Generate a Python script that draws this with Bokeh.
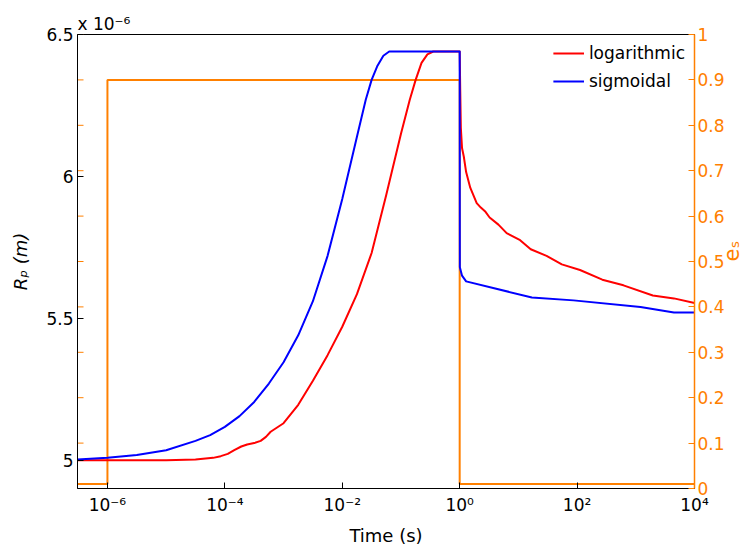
import math
from bokeh.plotting import figure
from bokeh.models import (ColumnDataSource, Range1d, LinearAxis, FixedTicker,
                          Legend, LegendItem, Title)
from bokeh.embed import file_html
from bokeh.resources import INLINE

# ---------------- data ----------------
# time given as log10(t [s]); R_p in units of 1e-6 m
logt_logarithmic = [-6.51, -5.0, -4.5, -4.2, -4.07, -3.95, -3.84, -3.72, -3.62, -3.5,
                    -3.39, -3.3, -3.22, -3.11, -3.0, -2.75, -2.5, -2.25, -2.0, -1.75,
                    -1.5, -1.25, -1.0, -0.85, -0.75, -0.65, -0.55, -0.45, 0.0,
                    0.01, 0.02, 0.04, 0.07, 0.11, 0.18, 0.29, 0.36, 0.44, 0.51, 0.66,
                    0.8, 1.03, 1.21, 1.48, 1.74, 2.05, 2.43, 2.79, 3.29, 3.65, 4.0]
rp_logarithmic = [5.000, 5.000, 5.002, 5.008, 5.014, 5.022, 5.035, 5.048, 5.055, 5.060,
                  5.068, 5.082, 5.10, 5.115, 5.13, 5.195, 5.28, 5.37, 5.47, 5.585,
                  5.73, 5.935, 6.15, 6.27, 6.34, 6.40, 6.43, 6.44, 6.44,
                  6.30, 6.17, 6.10, 6.07, 6.015, 5.96, 5.906, 5.89, 5.875, 5.855, 5.83,
                  5.80, 5.775, 5.743, 5.72, 5.69, 5.67, 5.636, 5.616, 5.58, 5.57, 5.554]

logt_sigmoidal = [-6.51, -6.0, -5.5, -5.0, -4.5, -4.25, -4.0, -3.75, -3.5, -3.25,
                  -3.0, -2.75, -2.5, -2.25, -2.0, -1.75, -1.6, -1.5, -1.4, -1.3,
                  -1.2, 0.0,
                  0.003, 0.04, 0.11, 1.23, 1.94, 3.08, 3.65, 4.0]
rp_sigmoidal = [5.002, 5.008, 5.018, 5.035, 5.068, 5.088, 5.117, 5.155, 5.205, 5.27,
                5.345, 5.44, 5.56, 5.72, 5.92, 6.14, 6.27, 6.34, 6.39, 6.425,
                6.44, 6.44,
                5.68, 5.65, 5.63, 5.573, 5.563, 5.54, 5.52, 5.52]

logt_es = [-6.51, -6.0, -6.0, 0.0, 0.0, 4.0]
es_values = [0.01, 0.01, 0.9, 0.9, 0.01, 0.01]

x_ticks = [1e-6, 1e-4, 1e-2, 1, 1e2, 1e4]
x_tick_labels = ["10\u207b\u2076", "10\u207b\u2074", "10\u207b\u00b2", "10\u2070", "10\u00b2", "10\u2074"]
rp_ticks = [5, 5.5, 6, 6.5]
rp_tick_labels = ["5", "5.5", "6", "6.5"]
es_ticks = [0, 0.1, 0.2, 0.3, 0.4, 0.5, 0.6, 0.7, 0.8, 0.9, 1]
es_tick_labels = ["0", "0.1", "0.2", "0.3", "0.4", "0.5", "0.6", "0.7", "0.8", "0.9", "1"]

X_MIN_LOG, X_MAX_LOG = -6.51, 4.0

# ---------------- style ----------------
FONT = "DejaVu Sans"
ORANGE = "#FF8000"
RED = "#FF0000"
BLUE = "#0000FF"

p = figure(x_axis_type="log",
           x_range=Range1d(10 ** X_MIN_LOG, 10 ** X_MAX_LOG),
           y_range=Range1d(4.9, 6.5),
           frame_width=617, frame_height=454,
           min_border_left=77, min_border_right=56,
           min_border_top=34, min_border_bottom=55,
           output_backend="svg", toolbar_location=None,
           background_fill_color="white", border_fill_color="white")
p.extra_y_ranges = {"es": Range1d(0, 1)}
p.grid.visible = False
p.outline_line_color = "black"
p.outline_line_width = 1

# multiplier "x 10^-6" above the left axis
mult = Title(text="x 10\u207b\u2076", align="left", offset=0, standoff=2,
             text_font=FONT, text_font_size="17px", text_font_style="normal",
             text_color="black")
p.add_layout(mult, "above")

# x axis
xa = p.xaxis[0]
xa.ticker = FixedTicker(ticks=x_ticks, minor_ticks=[])
xa.major_label_overrides = dict(zip(x_ticks, x_tick_labels))
xa.axis_label = "Time (s)"
xa.axis_label_text_font = FONT
xa.axis_label_text_font_size = "18px"
xa.axis_label_text_font_style = "normal"
xa.axis_label_text_color = "black"
xa.axis_label_standoff = 7
xa.major_label_text_font = FONT
xa.major_label_text_font_size = "17px"
xa.major_label_text_color = "black"
xa.major_label_standoff = 6
xa.major_tick_in = 6
xa.major_tick_out = 0
xa.major_tick_line_color = "black"
xa.minor_tick_line_color = None
xa.axis_line_color = "black"

# left y axis
ya = p.yaxis[0]
ya.ticker = FixedTicker(ticks=rp_ticks, minor_ticks=[])
ya.major_label_overrides = dict(zip(rp_ticks, rp_tick_labels))
ya.axis_label = "R\u209a (m)"
ya.axis_label_text_font = FONT
ya.axis_label_text_font_size = "18px"
ya.axis_label_text_font_style = "italic"
ya.axis_label_text_color = "black"
ya.axis_label_standoff = 12
ya.major_label_text_font = FONT
ya.major_label_text_font_size = "17px"
ya.major_label_text_color = "black"
ya.major_label_standoff = 4
ya.major_tick_in = 6
ya.major_tick_out = 0
ya.major_tick_line_color = "black"
ya.minor_tick_line_color = None
ya.axis_line_color = "black"

# right y axis
ra = LinearAxis(y_range_name="es")
ra.ticker = FixedTicker(ticks=es_ticks, minor_ticks=[])
ra.major_label_overrides = dict(zip(es_ticks, es_tick_labels))
ra.axis_label = "e\u209b"
ra.axis_label_text_font = FONT
ra.axis_label_text_font_size = "21px"
ra.axis_label_text_font_style = "normal"
ra.axis_label_text_color = ORANGE
ra.axis_label_standoff = 4
if "axis_label_orientation" in ra.properties():
    ra.axis_label_orientation = math.pi / 2
ra.major_label_text_font = FONT
ra.major_label_text_font_size = "17px"
ra.major_label_text_color = ORANGE
ra.major_label_standoff = 3
ra.major_tick_in = 6
ra.major_tick_out = 0
ra.major_tick_line_color = ORANGE
ra.minor_tick_line_color = None
ra.axis_line_color = ORANGE
ra.axis_line_width = 1.5
p.add_layout(ra, "right")

# mirrored orange ticks on the left edge (clipped dash markers)
p.scatter(x=[10 ** X_MIN_LOG] * len(es_ticks), y=es_ticks, y_range_name="es",
          marker="dash", size=12, line_color=ORANGE, line_width=1)

# ---------------- data lines ----------------
src_es = ColumnDataSource(dict(t=[10 ** v for v in logt_es], e=es_values))
src_log = ColumnDataSource(dict(t=[10 ** v for v in logt_logarithmic], r=rp_logarithmic))
src_sig = ColumnDataSource(dict(t=[10 ** v for v in logt_sigmoidal], r=rp_sigmoidal))

p.line("t", "e", source=src_es, y_range_name="es", line_color=ORANGE, line_width=2)
r_log = p.line("t", "r", source=src_log, line_color=RED, line_width=2, line_join="round")
r_sig = p.line("t", "r", source=src_sig, line_color=BLUE, line_width=2, line_join="round")

legend = Legend(items=[LegendItem(label="logarithmic", renderers=[r_log]),
                       LegendItem(label="sigmoidal", renderers=[r_sig])],
                location="top_right")
legend.border_line_color = None
legend.background_fill_alpha = 0
legend.label_text_font = FONT
legend.label_text_font_size = "17px"
legend.label_text_color = "black"
legend.glyph_width = 31
legend.glyph_height = 20
legend.label_height = 20
legend.label_standoff = 5
legend.spacing = 8
legend.padding = 6
legend.margin = 9
p.add_layout(legend)

open("out.html", "w").write(file_html(p, INLINE))
